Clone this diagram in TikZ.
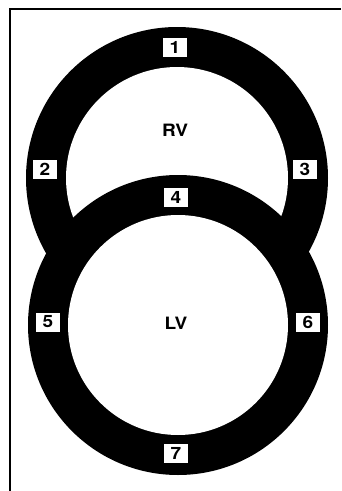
\documentclass[tikz,border=0pt]{standalone}
\usepackage{fontspec}
\setmainfont{TeX Gyre Heros}
\newfontfamily\widelabel[FakeStretch=1.12]{TeX Gyre Heros}
\begin{document}
\begin{tikzpicture}[x=1pt,y=-1pt,
  segbox/.style={draw=none,fill=white,minimum width=24pt,minimum height=19pt,inner sep=0pt,
    font=\widelabel\fontsize{17}{17}\selectfont\bfseries},
  cavity/.style={font=\widelabel\fontsize{17}{17}\selectfont\bfseries}]
\useasboundingbox (0,0) rectangle (341,491);
% frame edges
\draw[line width=1.8pt] (341,9) -- (10,9) -- (10,491);
% right ventricle wall (drawn first, lies underneath)
\fill[black] (177,178) circle[radius=151];
\fill[white] (177,178) circle[radius=111];
% left ventricle wall on top
\fill[black] (178,325) circle[radius=150];
\fill[white] (178,325) circle[radius=110];
% cavity labels
\node[cavity] (rv) at (175,130) {RV};
\node[cavity] (lv) at (176,323) {LV};
% numbered wall segments
\node[segbox] (s1) at (175,47) {1};
\node[segbox] (s2) at (45,169) {2};
\node[segbox] (s3) at (305,169) {3};
\node[segbox] (s4) at (176,197) {4};
\node[segbox] (s5) at (48,322) {5};
\node[segbox] (s6) at (308,322) {6};
\node[segbox] (s7) at (176,453) {7};
\end{tikzpicture}
\end{document}
